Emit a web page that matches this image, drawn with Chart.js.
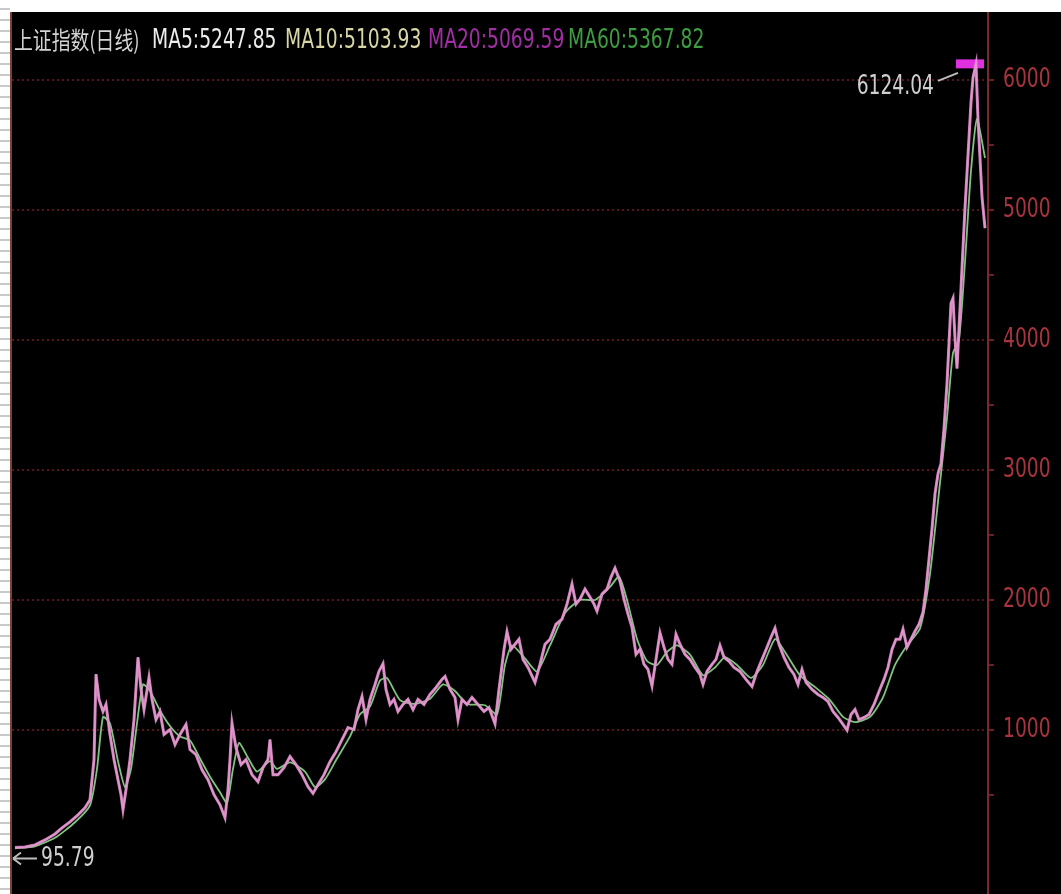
<!DOCTYPE html>
<html>
<head>
<meta charset="utf-8">
<script src="https://cdn.jsdelivr.net/npm/chart.js@4.4.1/dist/chart.umd.min.js"></script>
<style>
  html, body { margin: 0; padding: 0; background: #fff; }
  body { width: 1061px; height: 894px; overflow: hidden; position: relative; font-family: 'DejaVu Sans Condensed', 'DejaVu Sans', sans-serif; }
  #margin { position: absolute; left: 0; top: 0; width: 10px; height: 894px;
    background: repeating-linear-gradient(to bottom, #fff 0 8px, #c9c9c9 8px 10px, #fff 10px 11px); }
  #panel { position: absolute; left: 10px; top: 12px; width: 1049px; height: 882px; background: #000; border-left: 2px solid #7c4034; }
  #panel canvas { display: block; }
  .legend { position: absolute; top: 14px; font-size: 26px; line-height: 26px; white-space: nowrap; transform: scaleX(0.8); transform-origin: left center; }
  .cjk { display: inline-block; font-family: 'Noto Sans CJK SC', sans-serif; font-size: 24px; transform: scaleX(0.98); transform-origin: left center; }
</style>
</head>
<body>
<div id="margin"></div>
<div id="panel">
  <canvas id="k-chart" width="1049" height="882"></canvas>
  <div class="legend" style="left:2px;color:#d4d4d4"><span class="cjk">上证指数(日线)</span></div>
  <div class="legend" style="left:140px;color:#ececec">MA5:5247.85</div>
  <div class="legend" style="left:273px;color:#d9d6a6">MA10:5103.93</div>
  <div class="legend" style="left:416px;color:#a22ea4">MA20:5069.59</div>
  <div class="legend" style="left:556px;color:#3e9c42">MA60:5367.82</div>
</div>
<script>
// позиция бара (сессии) на сжатой оси времени и значение закрытия
const bars = [0,10,20,30,40,47,55,63,70,75,79,81,84,88,91,95,99,103,106,108,111,115,119,123,126,129,134,137,141,145,149,155,160,165,171,175,181,187,193,199,205,210,213,215,217,221,226,231,237,243,248,253,255,258,263,269,275,281,287,293,298,303,309,315,321,327,333,339,343,347,351,355,360,364,368,371,375,379,383,388,393,398,403,409,415,421,427,430,435,440,443,447,452,457,463,469,474,480,484,489,492,496,500,504,508,513,520,525,530,535,541,547,552,557,561,565,570,575,579,582,587,592,596,600,605,609,613,617,621,625,629,633,637,641,645,649,653,657,661,665,670,675,680,685,688,692,697,701,705,709,714,719,725,731,737,742,747,752,756,760,764,769,774,779,783,787,791,797,803,808,813,818,823,828,832,836,840,844,849,854,859,864,869,873,877,881,885,888,892,896,900,904,908,911,914,917,920,923,926,929,932,934,936,938,940,942,944,946,948,950,952,954,956,958,961,963,965,967,970];
const closes = [96,100,116,154,200,247,293,347,401,463,772,1429,1235,1142,1196,965,772,617,502,386,540,772,1080,1558,1312,1157,1404,1235,1080,1142,965,1003,887,965,1042,849,810,694,617,502,424,325,540,772,1052,864,733,772,656,602,710,772,926,656,656,710,795,733,656,563,512,579,656,756,833,926,1018,1003,1157,1258,1080,1235,1350,1451,1510,1312,1196,1235,1142,1196,1235,1157,1235,1196,1273,1327,1389,1412,1312,1250,1080,1235,1196,1250,1196,1142,1173,1047,1312,1620,1756,1620,1659,1698,1543,1481,1366,1505,1659,1698,1813,1852,1968,2122,1968,2006,2083,2022,1968,1914,2045,2083,2176,2245,2145,2006,1891,1790,1582,1620,1505,1466,1339,1543,1748,1636,1543,1505,1736,1659,1582,1543,1481,1427,1350,1450,1505,1543,1649,1559,1528,1481,1450,1389,1335,1450,1543,1636,1713,1783,1659,1559,1481,1427,1350,1466,1366,1312,1273,1250,1219,1142,1096,1042,998,1119,1157,1080,1096,1119,1196,1296,1389,1481,1620,1698,1698,1775,1636,1698,1759,1813,1906,2083,2315,2546,2816,2971,3048,3318,3665,3974,4282,4320,4012,3781,4089,4398,4707,5015,5285,5556,5826,6018,6124,5700,5400,5100,4860];

// медленная средняя (зелёная линия)
const maBars = [0,20,40,60,75,82,88,95,103,110,116,122,128,135,145,155,165,175,185,195,205,212,218,224,232,242,255,262,275,290,300,310,322,335,345,355,365,372,385,400,415,428,440,452,470,482,490,497,510,522,535,550,565,580,595,604,612,622,632,642,652,662,675,688,700,710,722,736,748,760,770,785,800,815,828,840,855,868,880,892,905,915,925,932,938,944,950,956,962,970];
const maValues = [90,105,170,290,420,700,1100,1050,760,560,700,1050,1350,1300,1150,1030,950,920,780,640,520,440,700,900,800,680,760,700,750,680,560,620,780,950,1120,1180,1380,1400,1230,1200,1240,1350,1300,1200,1190,1120,1500,1650,1550,1450,1650,1900,2000,2000,2100,2180,2000,1700,1530,1500,1600,1650,1580,1420,1480,1560,1500,1400,1500,1700,1600,1420,1330,1230,1100,1060,1100,1250,1500,1650,1780,2200,2900,3400,3900,4000,4600,5300,5700,5400];

// вершина рынка — пурпурная метка у максимума
const peakBars = [941, 969];
const peakValues = [6124, 6124];

const yTicks = [500,1000,1500,2000,2500,3000,3500,4000,4500,5000,5500,6000];

const FONT = "'DejaVu Sans Condensed', 'DejaVu Sans', sans-serif";
const SQUEEZE = 0.8;

const toXY = (xs, ys) => xs.map((x, i) => ({ x: x, y: ys[i] }));

// узкий текст на канве
function narrowText(ctx, text, x, y, align) {
  ctx.save();
  ctx.translate(x, y);
  ctx.scale(SQUEEZE, 1);
  ctx.textAlign = align;
  ctx.fillText(text, 0, 0);
  ctx.restore();
}

// подписи оси справа + подписи максимума и минимума
const overlayText = {
  id: 'overlayText',
  afterDatasetsDraw(chart) {
    const { ctx, chartArea, scales: { x, y } } = chart;
    ctx.save();
    ctx.font = '26px ' + FONT;
    ctx.textBaseline = 'middle';

    ctx.fillStyle = '#a8343e';
    yTicks.filter(v => v % 1000 === 0).forEach(v => {
      narrowText(ctx, String(v), chartArea.right + 15, y.getPixelForValue(v), 'left');
    });

    let hi = 0, lo = 0;
    closes.forEach((v, i) => { if (v > closes[hi]) hi = i; if (v < closes[lo]) lo = i; });
    const hx = x.getPixelForValue(bars[hi]), hy = y.getPixelForValue(closes[hi]);
    const lx = x.getPixelForValue(bars[lo]), ly = y.getPixelForValue(closes[lo]);

    ctx.fillStyle = '#cfcfcf';
    ctx.strokeStyle = '#bdbdbd';
    ctx.lineWidth = 2;
    // 6124.04
    ctx.beginPath();
    ctx.moveTo(hx - 38, hy + 17);
    ctx.lineTo(hx - 18, hy + 9);
    ctx.stroke();
    narrowText(ctx, '6124.04', hx - 42, hy + 23, 'right');
    // ←95.79
    ctx.beginPath();
    ctx.moveTo(lx - 2, ly + 11);
    ctx.lineTo(lx + 22, ly + 11);
    ctx.moveTo(lx - 2, ly + 11);
    ctx.lineTo(lx + 6, ly + 5);
    ctx.moveTo(lx - 2, ly + 11);
    ctx.lineTo(lx + 6, ly + 17);
    ctx.stroke();
    narrowText(ctx, '95.79', lx + 26, ly + 12, 'left');
    ctx.restore();
  },
};

new Chart(document.getElementById('k-chart'), {
  type: 'line',
  data: {
    datasets: [
      {
        label: 'close-halo',
        data: toXY(bars, closes),
        borderColor: 'rgba(222,140,200,0.9)',
        borderWidth: 3,
        pointRadius: 0,
        tension: 0,
      },
      {
        label: 'close',
        data: toXY(bars, closes),
        borderColor: '#f4f0f2',
        borderWidth: 1.6,
        pointRadius: 0,
        tension: 0,
      },
      {
        label: 'MA60',
        data: toXY(maBars, maValues),
        borderColor: 'rgba(140,220,140,0.9)',
        borderWidth: 1.8,
        pointRadius: 0,
        tension: 0.2,
      },
      {
        label: 'peak',
        data: toXY(peakBars, peakValues),
        borderColor: '#e030e0',
        borderWidth: 9,
        pointRadius: 0,
      },
    ],
  },
  options: {
    responsive: false,
    animation: false,
    layout: { padding: 0 },
    plugins: { legend: { display: false }, tooltip: { enabled: false } },
    scales: {
      x: { type: 'linear', min: -3, max: 973, display: false },
      y: {
        position: 'right',
        min: -262,
        max: 6523,
        afterBuildTicks: axis => { axis.ticks = yTicks.map(v => ({ value: v })); },
        afterFit: axis => { axis.width = 73; },
        border: { display: true, color: '#7a2a2c', width: 2, dash: [2, 3] },
        grid: {
          color: ctx => (ctx.tick && ctx.tick.value % 1000 === 0) ? 'rgba(110,30,36,0.75)' : 'rgba(0,0,0,0)',
          lineWidth: 2,
          tickColor: 'rgba(130,40,44,0.8)',
          tickLength: 6,
        },
        ticks: { display: false },
      },
    },
  },
  plugins: [overlayText],
});
</script>
</body>
</html>
